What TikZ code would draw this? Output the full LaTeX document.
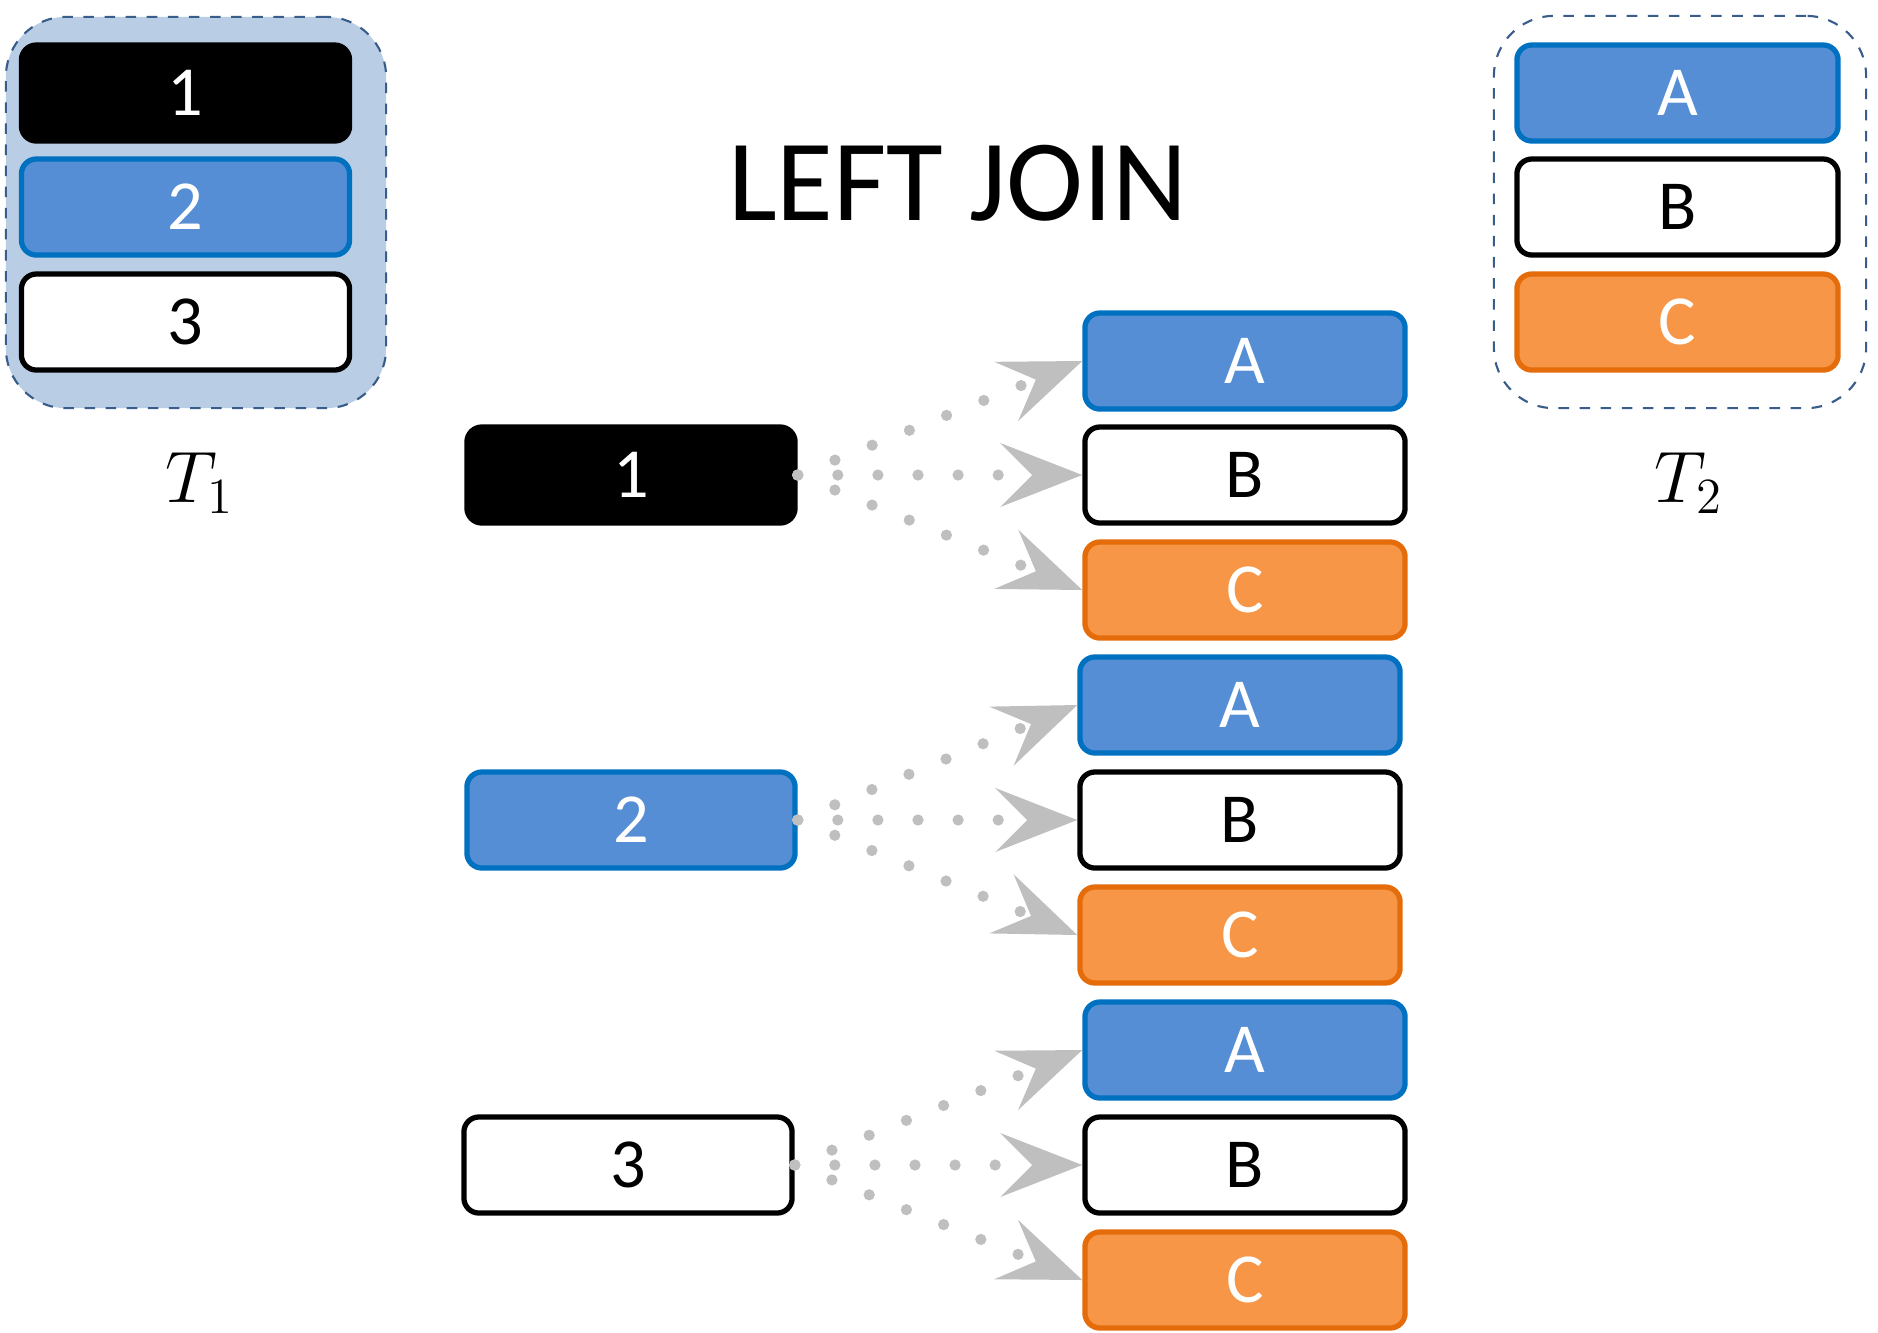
\documentclass[tikz,border=0pt]{standalone}
\usepackage{fontspec}
\setmainfont{Carlito}
\usetikzlibrary{arrows.meta}
\definecolor{bfill}{HTML}{558ED5}
\definecolor{bdraw}{HTML}{0070C0}
\definecolor{ofill}{HTML}{F79646}
\definecolor{odraw}{HTML}{E46C0A}
\definecolor{cfill}{HTML}{B9CDE5}
\definecolor{cdraw}{HTML}{385D8A}
\definecolor{agray}{HTML}{BFBFBF}
\tikzset{
  cell/.style={rounded corners=0.15cm, minimum height=0.96cm, inner sep=0pt, line width=1.5pt, font=\fontsize{20}{24}\selectfont},
  blk/.style={cell, fill=black, draw=black, text=white},
  blu/.style={cell, fill=bfill, draw=bdraw, text=white},
  wht/.style={cell, fill=white, draw=black, text=black},
  org/.style={cell, fill=ofill, draw=odraw, text=white},
  lw/.style={minimum width=3.28cm},
  rw/.style={minimum width=3.2cm},
  cont/.style={rounded corners=0.6cm, draw=cdraw, dashed, line width=0.6pt, inner sep=0pt},
  link/.style={draw=agray, line width=3.2pt, line cap=round, dash pattern=on 0pt off 11.4pt,
    -{Stealth[length=0.82cm, width=0.64cm, inset=0.32cm, line width=0pt, fill=agray]}},
  lbl/.style={font=\fontsize{21}{25}\selectfont}
}
\begin{document}
\begin{tikzpicture}[x=0.01cm,y=-0.01cm]
\useasboundingbox (0,0) rectangle (1878,1332);
% containers
\node[cont, fill=cfill, minimum width=3.8cm, minimum height=3.91cm] (T1box) at (196,212.5) {};
\node[cont, fill=none, minimum width=3.72cm, minimum height=3.92cm] (T2box) at (1680,212) {};
% T1 rows
\node[blk, lw] (t1a) at (185.5,93) {1};
\node[blu, lw] (t1b) at (185.5,207) {2};
\node[wht, lw] (t1c) at (185.5,322) {3};
% T2 rows
\node[blu, minimum width=3.21cm] (t2a) at (1677.5,93) {A};
\node[wht, minimum width=3.21cm] (t2b) at (1677.5,207) {B};
\node[org, minimum width=3.21cm] (t2c) at (1677.5,322) {C};
% labels
\node[lbl] (L1) at (200,483) {$T_1$};
\node[lbl] (L2) at (1689,483) {$T_2$};
\node[font=\fontsize{33}{39}\selectfont] (title) at (958,183) {LEFT JOIN};
% left column
\node[blk, lw] (l1) at (631,475) {1};
\node[blu, lw] (l2) at (631,820) {2};
\node[wht, lw] (l3) at (628,1165) {3};
% right groups
\node[blu, rw] (a1) at (1245,361) {A};
\node[wht, rw] (b1) at (1245,475) {B};
\node[org, rw] (c1) at (1245,590) {C};
\node[blu, rw] (a2) at (1240,705) {A};
\node[wht, rw] (b2) at (1240,820) {B};
\node[org, rw] (c2) at (1240,935) {C};
\node[blu, rw] (a3) at (1245,1050) {A};
\node[wht, rw] (b3) at (1245,1165) {B};
\node[org, rw] (c3) at (1245,1280) {C};
% connectors
\foreach \s/\g in {l1/1, l2/2, l3/3}{
  \draw[link] (\s.east) -- (a\g.west);
  \draw[link] (\s.east) -- (b\g.west);
  \draw[link] (\s.east) -- (c\g.west);
}
\end{tikzpicture}
\end{document}
